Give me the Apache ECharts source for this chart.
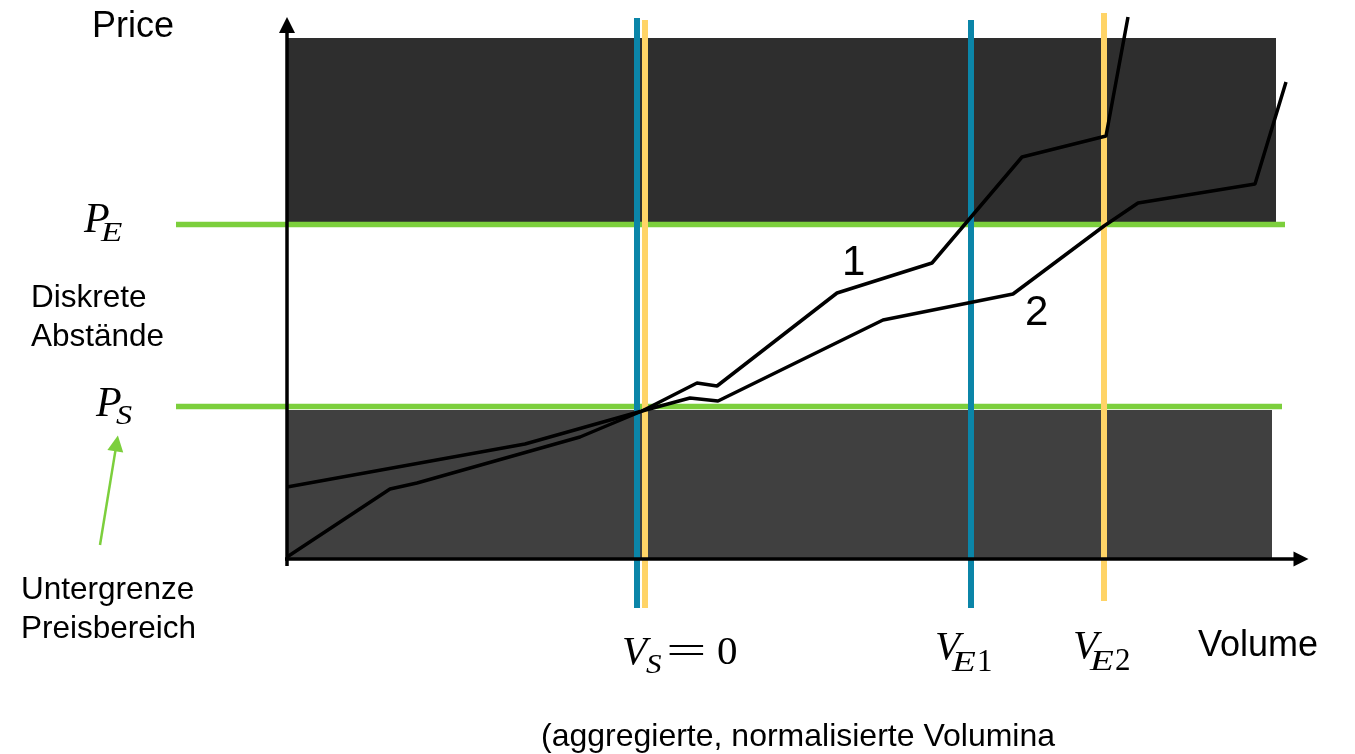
<!DOCTYPE html>
<html><head><meta charset="utf-8">
<script src="https://cdn.jsdelivr.net/npm/echarts@6/dist/echarts.min.js"></script>
<style>html,body{margin:0;padding:0;background:#fff}#c{width:1355px;height:754px}</style>
</head><body><div id="c"></div>
<script>
// ---- diagram values (volume on x, price on y; arbitrary diagram units) ----
const volumeRange = [-287, 1068];
const priceRange = [-194, 560];
const priceLevelPE = 335.5;            // P_E
const priceLevelPS = 153.5;            // P_S
const priceLineVolumes = [-111, 998];  // extent of P_E line
const priceLineVolumesS = [-111, 995]; // extent of P_S line
const blueVolumes = [350, 684];        // V_S (curve 1), V_E1
const blueSpans = [[542, -48], [540, -48]];
const yellowVolumes = [358, 817];      // V_S (curve 2), V_E2
const yellowSpans = [[540, -48], [547, -41]];
const upperZone = [[0, 337], [989, 522]];
const lowerZone = [[0, 2], [985, 150]];
const curve1 = [[0,3],[103,71],[130,77],[293,123],[355,149],[410,177],[430,174],[550,267],[645,297],[735,403],[819,424],[841,543]];
const curve2 = [[0,73],[238,116],[355,149],[403,162],[431,159],[596,240],[726,266],[817,334],[851,357],[968,376],[999,478]];
const axisY = [[0,-6],[0,535]];
const axisX = [[-2,1],[1014,1]];
const hintArrow = [[-187,15],[-170.4,116.6]];
const curveLabels = ['1', '2'];

const GREEN = '#7ccf3c', BLUE = '#0b85a8', YELLOW = '#ffd467';
const chart = echarts.init(document.getElementById('c'));

function seg(name, data, color, width, z) {
  return { name, type: 'line', data, symbol: 'none', silent: true, z,
    lineStyle: { color, width }, emphasis: { disabled: true } };
}
const series = [];
series.push(seg('P_E', [[priceLineVolumes[0], priceLevelPE], [priceLineVolumes[1], priceLevelPE]], GREEN, 5.5, 1));
series.push(seg('P_S', [[priceLineVolumesS[0], priceLevelPS], [priceLineVolumesS[1], priceLevelPS]], GREEN, 5.5, 1));
blueVolumes.forEach((v, i) => series.push(seg('blue' + i, [[v, blueSpans[i][0]], [v, blueSpans[i][1]]], BLUE, 6, 2)));
yellowVolumes.forEach((v, i) => series.push(seg('yellow' + i, [[v, yellowSpans[i][0]], [v, yellowSpans[i][1]]], YELLOW, 6, 2)));
series.push({ name: 'zones', type: 'line', data: [], silent: true, z: 3,
  markArea: { silent: true, label: { show: false },
    data: [
      [{ coord: upperZone[0], itemStyle: { color: 'rgba(0,0,0,0.82)' } }, { coord: upperZone[1] }],
      [{ coord: lowerZone[0], itemStyle: { color: 'rgba(0,0,0,0.75)' } }, { coord: lowerZone[1] }]
    ] } });
series.push(seg('curve1', curve1, '#000', 3.5, 4));
series.push(seg('curve2', curve2, '#000', 3.5, 4));
series.push({ name: 'axes', type: 'line', data: [], silent: true, z: 5,
  markLine: { silent: true, symbol: ['none', 'triangle'], symbolSize: 16, label: { show: false },
    lineStyle: { type: 'solid', color: '#000', width: 3.5 },
    data: [
      [{ coord: axisY[0] }, { coord: axisY[1] }],
      [{ coord: axisX[0] }, { coord: axisX[1], symbolSize: 15 }],
      [{ coord: hintArrow[0], lineStyle: { color: GREEN, width: 2.5 } }, { coord: hintArrow[1], lineStyle: { color: GREEN, width: 2.5 } }]
    ] } });

chart.setOption({
  animation: false,
  grid: { left: 0, right: 0, top: 0, bottom: 0 },
  xAxis: { type: 'value', min: volumeRange[0], max: volumeRange[1], show: false },
  yAxis: { type: 'value', min: priceRange[0], max: priceRange[1], show: false },
  series
});

// ---- text ----
const SANS = 'Liberation Sans, Arial, sans-serif';
const SERIF = 'Liberation Serif, Times New Roman, serif';
function T(text, x, baseline, size, o) {
  o = o || {};
  const serif = !!o.serif;
  const k = serif ? 0.24 : 0.235;
  const lh = o.lh || Math.round(size * 1.2);
  return { type: 'text', x, y: baseline - lh / 2 - k * size, silent: true, z: 100,
    scaleX: o.sx || 1,
    style: { text, fontSize: size, fontFamily: serif ? SERIF : SANS,
      fontStyle: o.it ? 'italic' : 'normal', fill: '#000', lineHeight: lh,
      align: 'left', verticalAlign: 'top' } };
}
const px = (x, y) => chart.convertToPixel({ gridIndex: 0 }, [x, y]);
const vs = px(blueVolumes[0], 0)[0];
const ve1 = px(blueVolumes[1], 0)[0];
const ve2 = px(yellowVolumes[1], 0)[0];
const pe = px(0, priceLevelPE)[1];
const ps = px(0, priceLevelPS)[1];

const g = [
  T('Price', 92, 36, 36),
  T('Volume', 1198, 655, 36),
  T('Diskrete\nAbstände', 31, 306, 31.5, { lh: 39 }),
  T('Untergrenze\nPreisbereich', 21, 598, 31.5, { lh: 39 }),
  T('(aggregierte, normalisierte Volumina', 541, 745, 32),
  T(curveLabels[0], 842, 273, 42),
  T(curveLabels[1], 1025, 323, 42),
  // P_E, P_S
  T('P', 84, pe + 6.5, 42, { serif: true, it: true }),
  T('E', 101, pe + 15.5, 28, { serif: true, it: true, sx: 1.25 }),
  T('P', 96, ps + 8.5, 42, { serif: true, it: true }),
  T('S', 116, ps + 16.5, 28, { serif: true, it: true, sx: 1.15 }),
  // V_S = 0
  T('V', vs - 15, 663, 41, { serif: true, it: true }),
  T('S', vs + 9, 672, 27, { serif: true, it: true, sx: 1.15 }),
  T('=', vs + 29, 663, 40, { serif: true, sx: 1.8 }),
  T('0', vs + 80, 663, 41, { serif: true }),
  // V_E1
  T('V', ve1 - 36, 658, 41, { serif: true, it: true }),
  T('E', ve1 - 19, 670, 30, { serif: true, it: true, sx: 1.3 }),
  T('1', ve1 + 6, 670, 31, { serif: true }),
  // V_E2
  T('V', ve2 - 31, 657, 41, { serif: true, it: true }),
  T('E', ve2 - 14, 669, 30, { serif: true, it: true, sx: 1.3 }),
  T('2', ve2 + 11, 669, 31, { serif: true })
];
chart.setOption({ graphic: g });
</script></body></html>
